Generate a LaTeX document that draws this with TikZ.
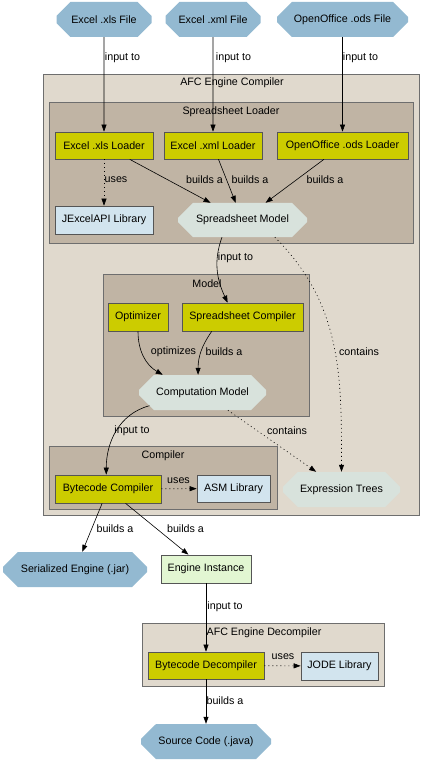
\documentclass[tikz,border=0pt]{standalone}
\usepackage{fontspec}
\setmainfont{Liberation Sans}
\usetikzlibrary{shapes.misc,arrows.meta}
\definecolor{filec}{HTML}{93B9D1}
\definecolor{compc}{HTML}{CCCC00}
\definecolor{libc}{HTML}{D2E4EE}
\definecolor{datac}{HTML}{D8E2DC}
\definecolor{instc}{HTML}{E2F6D2}
\definecolor{outerc}{HTML}{E0D9CD}
\definecolor{innerc}{HTML}{C0B4A4}
\definecolor{boxline}{HTML}{555555}
\definecolor{clusline}{HTML}{6E6E6E}

\begin{document}
\begin{tikzpicture}[x=1pt,y=1pt,font=\fontsize{10.7}{12}\selectfont,
  box/.style={draw=boxline,line width=0.7pt,inner sep=0pt,minimum height=27pt},
  comp/.style={box,fill=compc},
  lib/.style={box,fill=libc},
  oct/.style={chamfered rectangle,chamfered rectangle xsep=13pt,chamfered rectangle ysep=10pt,inner sep=0pt,minimum height=35pt},
  ext/.style={oct,fill=filec},
  data/.style={oct,fill=datac},
  clus/.style={draw=clusline,line width=0.7pt},
  edge/.style={draw=black,line width=0.6pt,-{Triangle[length=7pt,width=5pt]}},
  dep/.style={edge,dash pattern=on 1pt off 3pt},
  lbl/.style={inner sep=0pt}]
\useasboundingbox (0,0) rectangle (429,-767);

\filldraw [clus,fill=outerc] (43,-74) rectangle (419,-515);
\node (afc) at (232,-83) {AFC Engine Compiler};
\filldraw [clus,fill=innerc] (49,-102) rectangle (413,-243);
\node (loader) at (231,-112) {Spreadsheet Loader};
\filldraw [clus,fill=innerc] (103,-274) rectangle (309,-416);
\node (model) at (207,-284) {Model};
\filldraw [clus,fill=innerc] (49,-446) rectangle (277,-509);
\node (compiler) at (163,-456) {Compiler};
\filldraw [clus,fill=outerc] (142,-623) rectangle (384,-686);
\node (decomp) at (264,-633) {AFC Engine Decompiler};

\node [ext,minimum width=95pt] (xlsfile) at (104,-19.5) {Excel .xls File};
\node [ext,minimum width=95pt] (xmlfile) at (213,-19.5) {Excel .xml File};
\node [ext,minimum width=131pt] (odsfile) at (342.5,-19.5) {OpenOffice .ods File};
\node [comp,minimum width=98pt] (xlsload) at (104,-145.5) {Excel .xls Loader};
\node [comp,minimum width=98pt] (xmlload) at (213,-145.5) {Excel .xml Loader};
\node [comp,minimum width=131pt] (odsload) at (342.5,-145.5) {OpenOffice .ods Loader};
\node [lib,minimum width=98pt,minimum height=28pt] (jxl) at (104,-220) {JExcelAPI Library};
\node [data,minimum width=129pt,minimum height=34pt] (ssmodel) at (242.5,-220) {Spreadsheet Model};
\node [comp,minimum width=60pt,minimum height=28pt] (optim) at (138,-317) {Optimizer};
\node [comp,minimum width=121pt,minimum height=28pt] (sscomp) at (242.5,-317) {Spreadsheet Compiler};
\node [data,minimum width=127pt] (cmodel) at (202.5,-392.5) {Computation Model};
\node [comp,minimum width=106pt,minimum height=28pt] (bccomp) at (108,-489) {Bytecode Compiler};
\node [lib,minimum width=73pt] (asm) at (233.5,-488.5) {ASM Library};
\node [data,minimum width=117pt] (exprtrees) at (341.5,-489.5) {Expression Trees};
\node [ext,minimum width=144pt] (serial) at (75,-569.5) {Serialized Engine (.jar)};
\node [box,fill=instc,minimum width=90pt,minimum height=28pt] (engine) at (206,-569) {Engine Instance};
\node [comp,minimum width=116pt] (bcdecomp) at (206,-665.5) {Bytecode Decompiler};
\node [lib,minimum width=77pt,minimum height=28pt] (jode) at (339.5,-666) {JODE Library};
\node [ext,minimum width=130pt] (source) at (206,-741.5) {Source Code (.java)};

\draw [edge] (xlsfile) -- (xlsload) node [lbl] at (122.5,-58) {input to};
\draw [edge] (xmlfile) -- (xmlload) node [lbl] at (233.5,-58) {input to};
\draw [edge] (odsfile) -- (odsload) node [lbl] at (360.5,-58) {input to};
\draw [dep] (xlsload) -- (jxl) node [lbl] at (116,-180) {uses};
\draw [edge] (xlsload) -- (ssmodel) node [lbl] at (204.5,-180) {builds a};
\draw [edge] (xmlload) -- (ssmodel) node [lbl] at (250,-180) {builds a};
\draw [edge] (odsload) -- (ssmodel) node [lbl] at (325,-180) {builds a};
\draw [edge] (ssmodel.-140) to [out=-110,in=115] (sscomp.136) node [lbl] at (235.5,-258) {input to};
\draw [dep] (ssmodel.-28) to [out=-45,in=90] (exprtrees) node [lbl] at (359,-352) {contains};
\draw [edge] (optim.south) to [out=-90,in=150] (cmodel.156) node [lbl] at (173.5,-352) {optimizes};
\draw [edge] (sscomp.-155) to [out=-125,in=90] (cmodel.104) node [lbl] at (224,-352) {builds a};
\draw [edge] (cmodel.-166) to [out=-165,in=90] (bccomp.97) node [lbl] at (132,-431) {input to};
\draw [dep] (cmodel) -- (exprtrees) node [lbl] at (287,-431) {contains};
\draw [dep] (bccomp) -- (asm) node [lbl] at (178.5,-481) {uses};
\draw [edge] (bccomp) -- (serial) node [lbl] at (115,-529) {builds a};
\draw [edge] (bccomp) -- (engine) node [lbl] at (185.5,-529) {builds a};
\draw [edge] (engine) -- (bcdecomp) node [lbl] at (225,-607) {input to};
\draw [dep] (bcdecomp) -- (jode) node [lbl] at (283,-657) {uses};
\draw [edge] (bcdecomp) -- (source) node [lbl] at (225,-701) {builds a};
\end{tikzpicture}
\end{document}
